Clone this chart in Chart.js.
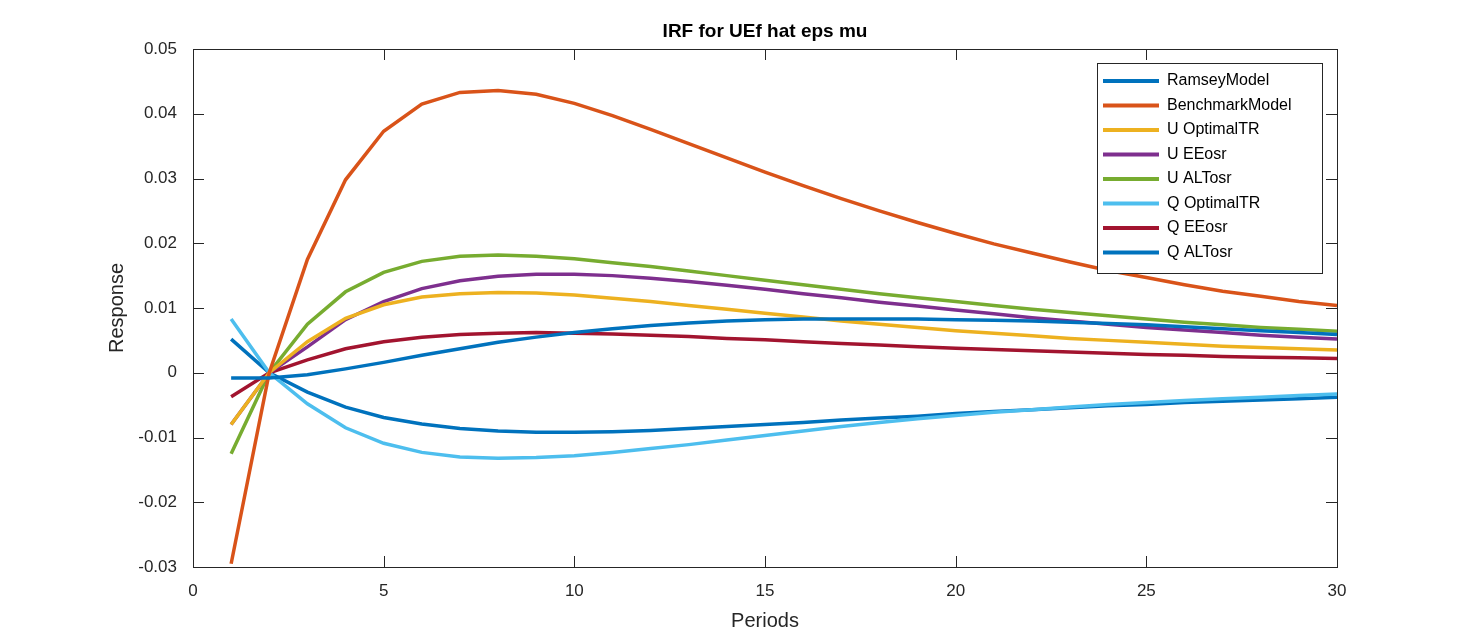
<!DOCTYPE html>
<html><head><meta charset="utf-8">
<script src="https://cdn.jsdelivr.net/npm/chart.js@4/dist/chart.umd.min.js"></script>
<style>html,body{margin:0;background:#fff}#wrap{width:1478px;height:639px}</style>
</head><body><div id="wrap"><canvas id="c"></canvas></div>
<script>
const periods = Array.from({length: 30}, (_, i) => i + 1);
const xTicks = [0, 5, 10, 15, 20, 25, 30];
const yTicks = [-0.03, -0.02, -0.01, 0, 0.01, 0.02, 0.03, 0.04, 0.05];

const ramsey = [-0.0008,-0.0008,-0.0003,0.0006,0.0016,0.0027,0.0037,0.0047,0.0055,0.0062,0.0068,0.0073,0.0077,0.008,0.0082,0.0083,0.0083,0.0083,0.0083,0.0082,0.0081,0.008,0.0078,0.0076,0.0074,0.0071,0.0068,0.0065,0.0062,0.0059];
const benchmark = [-0.0295,0,0.0175,0.0298,0.0373,0.0415,0.0433,0.0436,0.043,0.0416,0.0397,0.0376,0.0354,0.0332,0.031,0.0289,0.0269,0.025,0.0232,0.0215,0.0199,0.0185,0.0171,0.0158,0.0147,0.0136,0.0126,0.0118,0.011,0.0104];
const uOptimal = [-0.008,0,0.0048,0.0084,0.0105,0.0117,0.0122,0.0124,0.0123,0.012,0.0115,0.011,0.0104,0.0098,0.0092,0.0086,0.008,0.0075,0.007,0.0065,0.0061,0.0057,0.0053,0.005,0.0047,0.0044,0.0041,0.0039,0.0037,0.0035];
const uEE = [-0.008,0,0.004,0.0082,0.011,0.013,0.0142,0.0149,0.0152,0.0152,0.015,0.0146,0.0141,0.0135,0.0129,0.0122,0.0116,0.0109,0.0103,0.0097,0.0091,0.0085,0.008,0.0075,0.007,0.0066,0.0062,0.0058,0.0055,0.0052];
const uALT = [-0.0125,0,0.0075,0.0125,0.0155,0.0172,0.018,0.0182,0.018,0.0176,0.017,0.0164,0.0157,0.015,0.0143,0.0136,0.0129,0.0122,0.0116,0.011,0.0104,0.0098,0.0093,0.0088,0.0083,0.0078,0.0074,0.007,0.0067,0.0064];
const qOptimal = [0.0083,0,-0.0048,-0.0085,-0.0109,-0.0123,-0.013,-0.0132,-0.0131,-0.0128,-0.0123,-0.0117,-0.0111,-0.0104,-0.0097,-0.009,-0.0083,-0.0077,-0.0071,-0.0066,-0.0061,-0.0057,-0.0053,-0.0049,-0.0046,-0.0043,-0.004,-0.0038,-0.0035,-0.0033];
const qEE = [-0.0037,0,0.002,0.0037,0.0048,0.0055,0.0059,0.0061,0.0062,0.0061,0.006,0.0058,0.0056,0.0053,0.0051,0.0048,0.0045,0.0043,0.004,0.0038,0.0036,0.0034,0.0032,0.003,0.0028,0.0027,0.0025,0.0024,0.0023,0.0022];
const qALT = [0.0052,0,-0.003,-0.0053,-0.0069,-0.0079,-0.0086,-0.009,-0.0092,-0.0092,-0.0091,-0.0089,-0.0086,-0.0083,-0.008,-0.0077,-0.0073,-0.007,-0.0067,-0.0063,-0.006,-0.0057,-0.0054,-0.0051,-0.0049,-0.0046,-0.0044,-0.0042,-0.004,-0.0038];

const labels = ['RamseyModel','BenchmarkModel','U OptimalTR','U EEosr','U ALTosr','Q OptimalTR','Q EEosr','Q ALTosr'];
const series = [ramsey, benchmark, uOptimal, uEE, uALT, qOptimal, qEE, qALT];
const colors = ['#0072BD','#D95319','#EDB120','#7E2F8E','#77AC30','#4DBEEE','#A2142F','#0072BD'];

const FONT = '"Liberation Sans", Arial, sans-serif';

// marco, marcas hacia dentro, títulos y leyenda al estilo MATLAB
const matlabLook = {
  id: 'matlabLook',
  afterDraw(chart) {
    const c = chart.ctx, a = chart.chartArea;
    const xs = chart.scales.x, ys = chart.scales.y;
    c.save();
    c.strokeStyle = '#262626'; c.lineWidth = 1;
    c.strokeRect(a.left + 0.5, a.top + 0.5, a.right - a.left, a.bottom - a.top);
    c.beginPath();
    xTicks.forEach(v => {
      const p = Math.round(xs.getPixelForValue(v)) + 0.5;
      c.moveTo(p, a.bottom); c.lineTo(p, a.bottom - 11);
      c.moveTo(p, a.top); c.lineTo(p, a.top + 11);
    });
    yTicks.forEach(v => {
      const p = Math.round(ys.getPixelForValue(v)) + 0.5;
      c.moveTo(a.left, p); c.lineTo(a.left + 11, p);
      c.moveTo(a.right, p); c.lineTo(a.right - 11, p);
    });
    c.stroke();
    c.fillStyle = '#000';
    c.font = 'bold 19px ' + FONT; c.textAlign = 'center'; c.textBaseline = 'middle';
    c.fillText('IRF for UEf hat eps mu', (a.left + a.right) / 2, 32);
    c.fillStyle = '#262626';
    c.font = '20px ' + FONT;
    c.fillText('Periods', (a.left + a.right) / 2, 621);
    c.translate(117, (a.top + a.bottom) / 2); c.rotate(-Math.PI / 2);
    c.fillText('Response', 0, 0);
    c.restore();

    // leyenda
    c.save();
    const lx = 1097, ly = 63, lw = 225, lh = 210, row = 24.5;
    c.fillStyle = '#fff'; c.fillRect(lx, ly, lw, lh);
    c.strokeStyle = '#262626'; c.lineWidth = 1;
    c.strokeRect(lx + 0.5, ly + 0.5, lw, lh);
    c.font = '16px ' + FONT; c.textAlign = 'left'; c.textBaseline = 'middle';
    labels.forEach((lab, i) => {
      const y = ly + 18 + i * row;
      c.strokeStyle = colors[i]; c.lineWidth = 4;
      c.beginPath(); c.moveTo(lx + 6, y); c.lineTo(lx + 62, y); c.stroke();
      c.fillStyle = '#000'; c.fillText(lab, lx + 70, y);
    });
    c.restore();
  }
};

new Chart(document.getElementById('c'), {
  type: 'line',
  data: {
    datasets: labels.map((lab, i) => ({
      label: lab,
      data: periods.map((p, j) => ({x: p, y: series[i][j]})),
      borderColor: colors[i],
      borderWidth: 3.5,
      pointRadius: 0,
      tension: 0
    }))
  },
  options: {
    responsive: true,
    maintainAspectRatio: false,
    animation: false,
    layout: {padding: {top: 49, right: 141, left: 0, bottom: 0}},
    plugins: {legend: {display: false}, tooltip: {enabled: false}},
    scales: {
      x: {
        type: 'linear', min: 0, max: 30,
        afterBuildTicks: s => { s.ticks = xTicks.map(v => ({value: v})); },
        afterFit: s => { s.height = 72; },
        grid: {display: false}, border: {display: false},
        ticks: {color: '#262626', font: {family: FONT, size: 17}, padding: 6}
      },
      y: {
        min: -0.03, max: 0.05,
        afterBuildTicks: s => { s.ticks = yTicks.map(v => ({value: v})); },
        afterFit: s => { s.width = 193; },
        grid: {display: false}, border: {display: false},
        ticks: {color: '#262626', font: {family: FONT, size: 17}, padding: 8,
          callback: v => String(Math.round(v * 100) / 100)}
      }
    }
  },
  plugins: [matlabLook]
});
</script></body></html>
